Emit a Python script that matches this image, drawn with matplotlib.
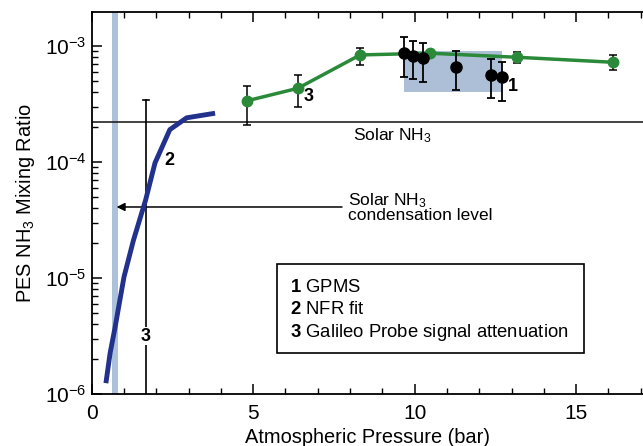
import matplotlib
matplotlib.use("Agg")
import matplotlib.pyplot as plt
import numpy as np
from matplotlib.patches import Rectangle

plt.rcParams['font.family'] = ['Liberation Sans', 'DejaVu Sans']
plt.rcParams['mathtext.fontset'] = 'custom'
plt.rcParams['mathtext.rm'] = 'Liberation Sans'
plt.rcParams['mathtext.it'] = 'Liberation Sans:italic'
plt.rcParams['mathtext.bf'] = 'Liberation Sans:bold'

# NFR fit curve (2)
nfr_p = [0.44, 0.57, 0.72, 1.00, 1.29, 1.67, 1.96, 2.42, 2.94, 3.82]
nfr_x = [1.24e-6, 2.25e-6, 3.7e-6, 1.02e-5, 2.1e-5, 4.7e-5, 9.8e-5, 1.9e-4, 2.4e-4, 2.63e-4]

# Galileo probe signal attenuation (3), green
att_p = [4.80, 6.38, 8.31, 10.48, 13.18, 16.13]
att_x = [3.36e-4, 4.31e-4, 8.36e-4, 8.65e-4, 7.98e-4, 7.23e-4]
att_hi = [4.55e-4, 5.62e-4, 9.55e-4, 9.12e-4, 8.93e-4, 8.36e-4]
att_lo = [2.08e-4, 2.96e-4, 6.86e-4, 8.09e-4, 7.10e-4, 6.21e-4]

# GPMS (1), black
gpms_p = [9.67, 9.96, 10.25, 11.27, 12.36, 12.69]
gpms_x = [8.75e-4, 8.2e-4, 7.83e-4, 6.64e-4, 5.62e-4, 5.37e-4]
gpms_hi = [1.2e-3, 1.11e-3, 1.05e-3, 9.06e-4, 7.67e-4, 7.33e-4]
gpms_lo = [5.43e-4, 5.16e-4, 4.93e-4, 4.18e-4, 3.54e-4, 3.36e-4]

# GPMS range box
box_p = [9.67, 12.69]
box_x = [4.04e-4, 9.1e-4]

# Galileo probe attenuation vertical bar (3)
probe_p = 1.68
probe_top = 3.42e-4

solar_nh3 = 2.2e-4
cond_level = 4.09e-5
cond_p = 0.72

legend_nums = ['1', '2', '3']
legend_texts = ['GPMS', 'NFR fit', 'Galileo Probe signal attenuation']

fig = plt.figure(figsize=(6.43, 4.46), dpi=100)
ax = fig.add_axes([0.1426, 0.1166, 0.8574, 0.8565])
ax.set_yscale('log')
ax.set_xlim(0, 17.07)
ax.set_ylim(1e-6, 1.96e-3)

# condensation band
ax.axvspan(cond_p - 0.08, cond_p + 0.08, color='#abc2da', zorder=1, lw=0)

# GPMS box
ax.fill_between(box_p, box_x[0], box_x[1], color='#a3b8d2', alpha=0.9, lw=0, zorder=1)

# solar line
ax.axhline(solar_nh3, color='#222222', lw=1.2, zorder=2)
ax.text(9.3, solar_nh3 * 0.93, 'Solar NH$_3$', ha='center', va='top', fontsize=12.5)

# probe vertical bar
ax.plot([probe_p, probe_p], [1e-6, probe_top], color='black', lw=1.2, zorder=3)
ax.plot([probe_p - 0.1, probe_p + 0.1], [probe_top, probe_top], color='black', lw=1.2, zorder=3)

# condensation arrow
ax.annotate('', xy=(cond_p + 0.05, cond_level), xytext=(7.75, cond_level),
            arrowprops=dict(arrowstyle='-|>', color='black', lw=1.1,
                            mutation_scale=12, shrinkA=0, shrinkB=0), zorder=3)
ax.text(7.95, cond_level, 'Solar NH$_3$\ncondensation level', ha='left', va='center',
        fontsize=12.5, linespacing=0.85)

# NFR curve
ax.plot(nfr_p, nfr_x, color='#22318c', lw=3.5, solid_capstyle='butt', zorder=4)

# green series
att_p_a = np.array(att_p)
att_x_a = np.array(att_x)
ax.errorbar(att_p_a, att_x_a,
            yerr=[att_x_a - np.array(att_lo), np.array(att_hi) - att_x_a],
            fmt='none', ecolor='black', elinewidth=1.1, capsize=3, capthick=1.1, zorder=5)
ax.plot(att_p_a, att_x_a, color='#2b8a3a', lw=2.5, marker='o', ms=7.5,
        mfc='#2b8a3a', mec='#2b8a3a', zorder=6)

# GPMS
gp = np.array(gpms_p)
gx = np.array(gpms_x)
ax.errorbar(gp, gx, yerr=[gx - np.array(gpms_lo), np.array(gpms_hi) - gx],
            fmt='o', color='black', ms=8, elinewidth=1.3, capsize=3, capthick=1.3, zorder=7)

# labels on data
ax.text(12.9, 4.5e-4, '1', fontsize=13, fontweight='bold', va='center')
ax.text(2.4, 1.02e-4, '2', fontsize=13, fontweight='bold', va='center', ha='center')
ax.text(6.55, 3.66e-4, '3', fontsize=13, fontweight='bold', va='center')
ax.text(probe_p, 3.16e-6, '3', fontsize=13, fontweight='bold', va='center', ha='center',
        bbox=dict(facecolor='white', edgecolor='none', pad=0.5), zorder=4)

# legend box
lb = Rectangle((277.3 / 643, 1 - 352.7 / 446), (584.3 - 277.3) / 643, (352.7 - 264) / 446,
               transform=fig.transFigure, facecolor='white', edgecolor='black',
               lw=1.2, zorder=8)
fig.patches.append(lb)
ys = [287.7, 310, 332.7]
for n, t, yp in zip(legend_nums, legend_texts, ys):
    fig.text(290 / 643, 1 - yp / 446, r'$\mathbf{' + n + '}$ ' + t, fontsize=13.3,
             va='center', ha='left', zorder=9)

ax.set_xlabel('Atmospheric Pressure (bar)', fontsize=14.4, labelpad=4)
ax.set_ylabel('PES NH$_3$ Mixing Ratio', fontsize=14.4, labelpad=6)

ax.set_xticks([0, 5, 10, 15])
ax.set_xticklabels(['0', '5', '10', '15'])
ax.set_xticks(np.arange(0, 18, 1), minor=True)
ax.set_yticks([1e-6, 1e-5, 1e-4, 1e-3])
ax.set_yticklabels(['10$^{-6}$', '10$^{-5}$', '10$^{-4}$', '10$^{-3}$'])
ax.tick_params(axis='both', which='major', direction='in', length=7, width=1.1,
               labelsize=15, top=True, right=False)
ax.tick_params(axis='both', which='minor', direction='in', length=4, width=1.0,
               top=True, right=False)
ax.tick_params(axis='x', pad=7)
ax.spines['right'].set_visible(False)
for s in ['left', 'bottom', 'top']:
    ax.spines[s].set_linewidth(1.3)

fig.savefig('out.png', dpi=100)
